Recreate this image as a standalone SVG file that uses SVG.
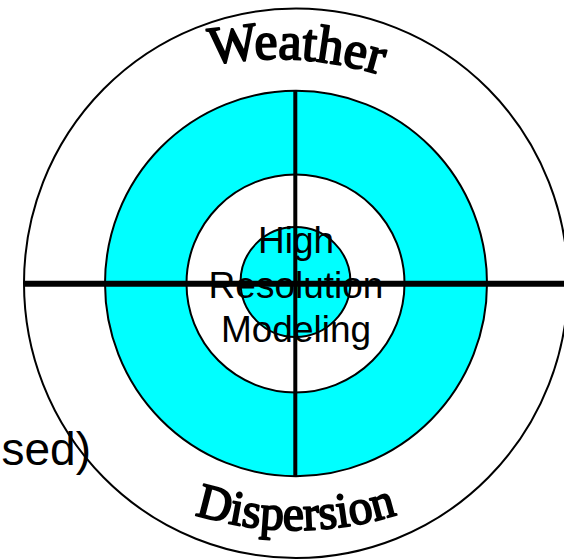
<svg xmlns="http://www.w3.org/2000/svg" width="564" height="559" viewBox="0 0 564 559">
  <style>
    .ring { stroke: #000; stroke-width: 2; }
    .cyan { fill: #00FFFF; }
    .white { fill: #FFFFFF; }
    .axis { stroke: #000; fill: none; }
    .arch { font-family: "Liberation Serif", "Times New Roman", serif; font-weight: normal; fill: #000; stroke: #000; stroke-width: 1.9; stroke-linejoin: round; }
    .label { font-family: "Liberation Sans", Arial, sans-serif; font-size: 37px; fill: #000; text-anchor: middle; }
  </style>
  <defs>
    <path id="arcTop" d="M 58.1 130.9 A 363 363 0 0 1 523.9 157.8"/>
    <path id="arcBottom" d="M -45 189 A 341 341 0 0 0 637 189"/>
  </defs>
  <rect width="564" height="559" fill="#FFFFFF"/>
  <g id="outer-ring">
    <ellipse class="ring white" cx="296" cy="283.3" rx="272" ry="274.7"/>
  </g>
  <g id="cyan-ring">
    <ellipse class="ring cyan" cx="296" cy="283.5" rx="191" ry="192.7"/>
  </g>
  <g id="white-ring">
    <circle class="ring white" cx="295.5" cy="283.5" r="109"/>
  </g>
  <g id="center">
    <circle class="ring cyan" cx="295.5" cy="282" r="55"/>
  </g>
  <g id="connectors">
    <line class="axis" x1="24" y1="283.7" x2="564" y2="283.7" stroke-width="6"/>
    <line class="axis" x1="295.3" y1="91" x2="295.3" y2="476" stroke-width="4"/>
  </g>
  <g id="weather">
    <text class="arch" font-size="53"><textPath href="#arcTop" startOffset="50%" text-anchor="middle" textLength="172" lengthAdjust="spacingAndGlyphs">Weather</textPath></text>
  </g>
  <g id="dispersion">
    <text class="arch" font-size="49"><textPath href="#arcBottom" startOffset="50%" text-anchor="middle" textLength="206" lengthAdjust="spacingAndGlyphs">Dispersion</textPath></text>
  </g>
  <g id="center-label">
    <text class="label" x="296" y="253">High</text>
    <text class="label" x="296" y="298">Resolution</text>
    <text class="label" x="296" y="342">Modeling</text>
  </g>
  <g id="cut-label">
    <text x="91" y="465" font-family="Liberation Sans, Arial, sans-serif" font-size="46" text-anchor="end" fill="#000">sed)</text>
  </g>
</svg>
